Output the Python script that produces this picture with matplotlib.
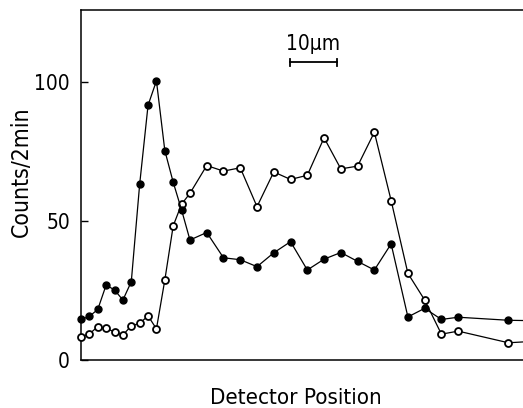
import matplotlib
matplotlib.use('Agg')
import matplotlib.pyplot as plt

plt.rcParams['font.family'] = ['DejaVu Sans']
plt.rcParams['font.stretch'] = 'condensed'

# Positionen der Detektorkanäle (erst fein, dann doppelter Abstand)
positions = list(range(0, 14)) + list(range(15, 46, 2)) + [51, 55]

filled_counts = [14.6, 15.7, 18.2, 27.0, 25.2, 21.6, 28.2, 63.3, 91.7, 100.5,
                 75.4, 64.0, 54.0, 43.2,
                 45.9, 36.8, 36.1, 33.6, 38.6, 42.6, 32.4, 36.3, 38.7, 35.5,
                 32.4, 41.8, 15.5, 18.6, 14.6, 15.4,
                 14.3, 14.1]
open_counts = [8.3, 9.4, 12.0, 11.4, 10.1, 9.0, 12.3, 13.2, 15.9, 11.2,
               28.8, 48.3, 56.1, 60.0,
               70.0, 68.0, 69.2, 55.2, 67.7, 65.0, 66.5, 80.0, 68.8, 69.8,
               82.0, 57.4, 31.2, 21.6, 9.3, 10.4,
               6.2, 6.9]

y_ticks = [0, 50, 100]

W, H = 523, 408
fig = plt.figure(figsize=(W / 100, H / 100), dpi=100)
# Achse ragt rechts über das Bild hinaus (wie im beschnittenen Original)
ax = fig.add_axes([81 / W, 1 - 360 / H, 461 / W, 350 / H])

ax.plot(positions, open_counts, '-o', color='black', lw=0.9, ms=5,
        mfc='white', mec='black', mew=1.3, clip_on=False, zorder=3)
ax.plot(positions, filled_counts, '-o', color='black', lw=0.9, ms=5,
        mfc='black', mec='black', clip_on=False, zorder=4)

ax.set_xlim(0, 55)
ax.set_ylim(0, 126)
ax.set_yticks(y_ticks)
ax.set_xticks([])
ax.tick_params(axis='y', direction='in', length=5, width=1, labelsize=15, pad=8)
for s in ax.spines.values():
    s.set_linewidth(1.1)

ax.set_ylabel('Counts/2min', fontsize=16.5)
ax.yaxis.set_label_coords(-0.104, 0.537)
fig.text(296 / W, 1 - 398 / H, 'Detector Position', fontsize=16,
         ha='center', va='center')

# Maßstabsbalken 10 µm
bar_x0, bar_x1, bar_y = 24.9, 30.5, 107.2
ax.plot([bar_x0, bar_x1], [bar_y, bar_y], color='black', lw=1.3)
ax.plot([bar_x0, bar_x0], [bar_y - 1.3, bar_y + 1.3], color='black', lw=1.3)
ax.plot([bar_x1, bar_x1], [bar_y - 1.3, bar_y + 1.3], color='black', lw=1.3)
ax.text((bar_x0 + bar_x1) / 2, bar_y + 3, '10μm', fontsize=15,
        ha='center', va='bottom')

fig.savefig('out.png', dpi=100)
